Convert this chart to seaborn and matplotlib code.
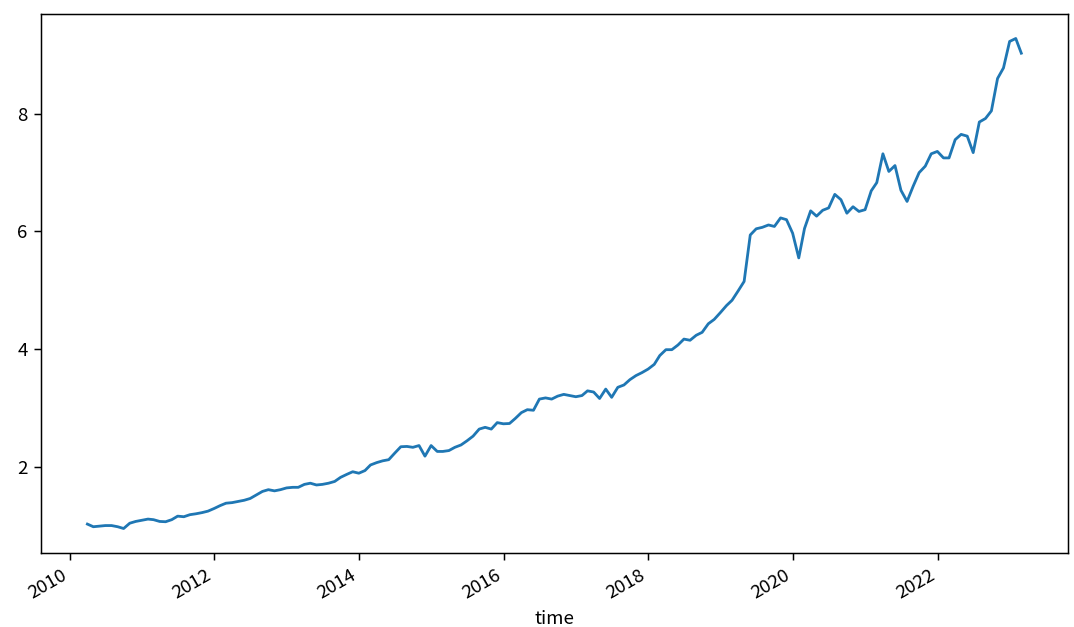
import numpy as np
import pandas as pd
import matplotlib
matplotlib.use("Agg")
import matplotlib.pyplot as plt
import matplotlib.dates as mdates
import seaborn as sns

plt.rcParams['font.family'] = ['Noto Sans CJK SC', 'DejaVu Sans']
plt.rcParams['axes.unicode_minus'] = False

start_month = "2010-03-31"
n_months = 156
values = [
    1.025, 0.98, 0.99, 1.00, 1.00, 0.98, 0.95, 1.04, 1.07, 1.09,
    1.11, 1.10, 1.07, 1.065, 1.10, 1.16, 1.15, 1.185, 1.20, 1.22,
    1.245, 1.29, 1.34, 1.38, 1.39, 1.41, 1.43, 1.46, 1.52, 1.58,
    1.61, 1.59, 1.61, 1.64, 1.65, 1.65, 1.70, 1.72, 1.69, 1.70,
    1.72, 1.75, 1.82, 1.87, 1.915, 1.89, 1.935, 2.03, 2.07, 2.10,
    2.12, 2.23, 2.34, 2.345, 2.33, 2.36, 2.18, 2.36, 2.26, 2.26,
    2.275, 2.33, 2.37, 2.44, 2.52, 2.64, 2.67, 2.64, 2.75, 2.73,
    2.735, 2.82, 2.92, 2.97, 2.96, 3.15, 3.17, 3.15, 3.20, 3.23,
    3.21, 3.19, 3.21, 3.29, 3.27, 3.16, 3.32, 3.18, 3.35, 3.39,
    3.48, 3.55, 3.60, 3.66, 3.74, 3.89, 3.99, 3.99, 4.07, 4.17,
    4.15, 4.235, 4.285, 4.43, 4.505, 4.62, 4.74, 4.83, 4.99, 5.15,
    5.94, 6.045, 6.07, 6.11, 6.085, 6.23, 6.20, 5.97, 5.55, 6.05,
    6.35, 6.26, 6.36, 6.40, 6.63, 6.54, 6.31, 6.42, 6.34, 6.37,
    6.69, 6.83, 7.32, 7.02, 7.12, 6.70, 6.51, 6.77, 7.00, 7.11,
    7.32, 7.36, 7.25, 7.25, 7.56, 7.65, 7.62, 7.34, 7.86, 7.92,
    8.05, 8.60, 8.78, 9.23, 9.28, 9.03,
]
x_label = "time"
year_tick_step = 2

time = pd.date_range(start_month, periods=n_months, freq="ME")
df = pd.DataFrame({"time": time, "value": values})

dpi = 134
fig = plt.figure(figsize=(1074 / dpi, 627 / dpi), dpi=dpi)
ax = fig.add_axes([40.7 / 1074, 1 - 553 / 627, (1068 - 40.7) / 1074, (553 - 14) / 627])

sns.lineplot(data=df, x="time", y="value", ax=ax, color="#1f77b4", linewidth=1.5)

ax.set_ylabel("")
ax.set_xlabel(x_label, fontsize=10)
ax.xaxis.set_major_locator(mdates.YearLocator(year_tick_step))
ax.xaxis.set_major_formatter(mdates.DateFormatter("%Y"))
for lbl in ax.get_xticklabels():
    lbl.set_rotation(30)
    lbl.set_ha("right")
ax.set_yticks([2, 4, 6, 8])
ax.tick_params(labelsize=10)

fig.savefig("out.png", dpi=dpi)
